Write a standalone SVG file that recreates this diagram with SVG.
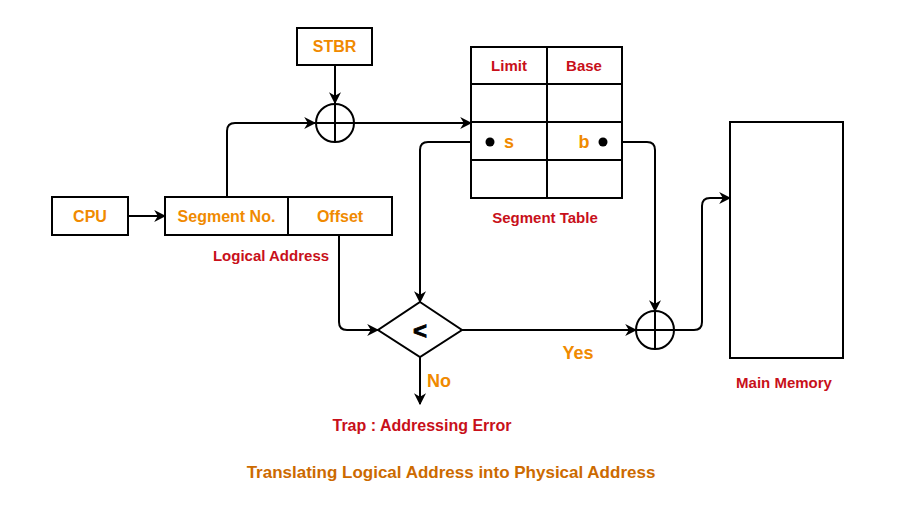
<svg xmlns="http://www.w3.org/2000/svg" width="924" height="515" viewBox="0 0 924 515">
<defs>
<marker id="arr" viewBox="0 0 10 10" refX="9" refY="5" markerWidth="12" markerHeight="12" markerUnits="userSpaceOnUse" orient="auto">
<path d="M0,0 L10,5 L0,10 L3,5 Z" fill="#000"/>
</marker>
<style>
.box{fill:#fff;stroke:#000;stroke-width:2}
.ln{fill:none;stroke:#000;stroke-width:2}
.or{font-family:"Liberation Sans",Arial,sans-serif;font-weight:bold;font-size:16px;fill:#F08A00;text-anchor:middle}
.rd{font-family:"Liberation Sans",Arial,sans-serif;font-weight:bold;font-size:15px;fill:#C8101A;text-anchor:middle}
.ti{font-family:"Liberation Sans",Arial,sans-serif;font-weight:bold;font-size:17px;fill:#CC6A00;text-anchor:middle}
.bk{font-family:"Liberation Sans",Arial,sans-serif;font-weight:bold;font-size:24px;fill:#000;stroke:#000;stroke-width:0.8;text-anchor:middle}
</style>
</defs>
<rect width="924" height="515" fill="#fff"/>
<g id="connectors">
<path class="ln" d="M227,197 V131 Q227,123 235,123 H315" marker-end="url(#arr)"/>
<path class="ln" d="M335,65 V103" marker-end="url(#arr)"/>
<path class="ln" d="M354,123 H471" marker-end="url(#arr)"/>
<path class="ln" d="M128,216 H165" marker-end="url(#arr)"/>
<path class="ln" d="M490,142 H428 Q420,142 420,150 V302" marker-end="url(#arr)"/>
<path class="ln" d="M339,235 V322 Q339,330 347,330 H378" marker-end="url(#arr)"/>
<path class="ln" d="M603,142 H647 Q655,142 655,150 V311" marker-end="url(#arr)"/>
<path class="ln" d="M462,330 H636" marker-end="url(#arr)"/>
<path class="ln" d="M674,330 H694 Q702,330 702,322 V206 Q702,198 710,198 H730" marker-end="url(#arr)"/>
<path class="ln" d="M420,357 V404" marker-end="url(#arr)"/>
</g>
<g id="stbr">
<rect class="box" x="297" y="28" width="75" height="37"/>
<text class="or" x="334.5" y="52">STBR</text>
</g>
<g id="adder1">
<circle class="ln" cx="335" cy="123" r="19" fill="#fff"/>
<path class="ln" d="M316,123 H354 M335,104 V142"/>
</g>
<g id="segtable">
<rect class="box" x="471" y="47" width="151" height="151"/>
<path class="ln" d="M547,47 V198 M471,84 H622 M471,122 H622 M471,160 H622"/>
<text class="rd" x="509" y="71">Limit</text>
<text class="rd" x="584" y="71">Base</text>
<circle cx="490" cy="142" r="4.5" fill="#000"/>
<circle cx="603" cy="142" r="4.5" fill="#000"/>
<text class="or" x="509" y="148" style="font-size:18px">s</text>
<text class="or" x="584" y="148" style="font-size:18px">b</text>
<text class="rd" x="545" y="223">Segment Table</text>
</g>
<g id="cpu">
<rect class="box" x="52" y="197" width="76" height="38"/>
<text class="or" x="90" y="222">CPU</text>
</g>
<g id="logical">
<rect class="box" x="165" y="197" width="227" height="38"/>
<path class="ln" d="M288,197 V235"/>
<text class="or" x="226.5" y="222">Segment No.</text>
<text class="or" x="340" y="222">Offset</text>
<text class="rd" x="271" y="261">Logical Address</text>
</g>
<g id="compare">
<path class="box" d="M420,302 L462,330 L420,357 L378,330 Z"/>
<text class="bk" x="420" y="339">&lt;</text>
</g>
<g id="adder2">
<circle class="ln" cx="655" cy="330" r="19" fill="#fff"/>
<path class="ln" d="M636,330 H674 M655,311 V349"/>
</g>
<g id="memory">
<rect class="box" x="730" y="122" width="113" height="236"/>
<text class="rd" x="784" y="388">Main Memory</text>
</g>
<g id="labels">
<text class="or" x="578" y="359" style="font-size:18px">Yes</text>
<text class="or" x="439" y="387" style="font-size:18px">No</text>
<text class="rd" x="422" y="431" style="font-size:16px">Trap : Addressing Error</text>
<text class="ti" x="451" y="478">Translating Logical Address into Physical Address</text>
</g>
</svg>
